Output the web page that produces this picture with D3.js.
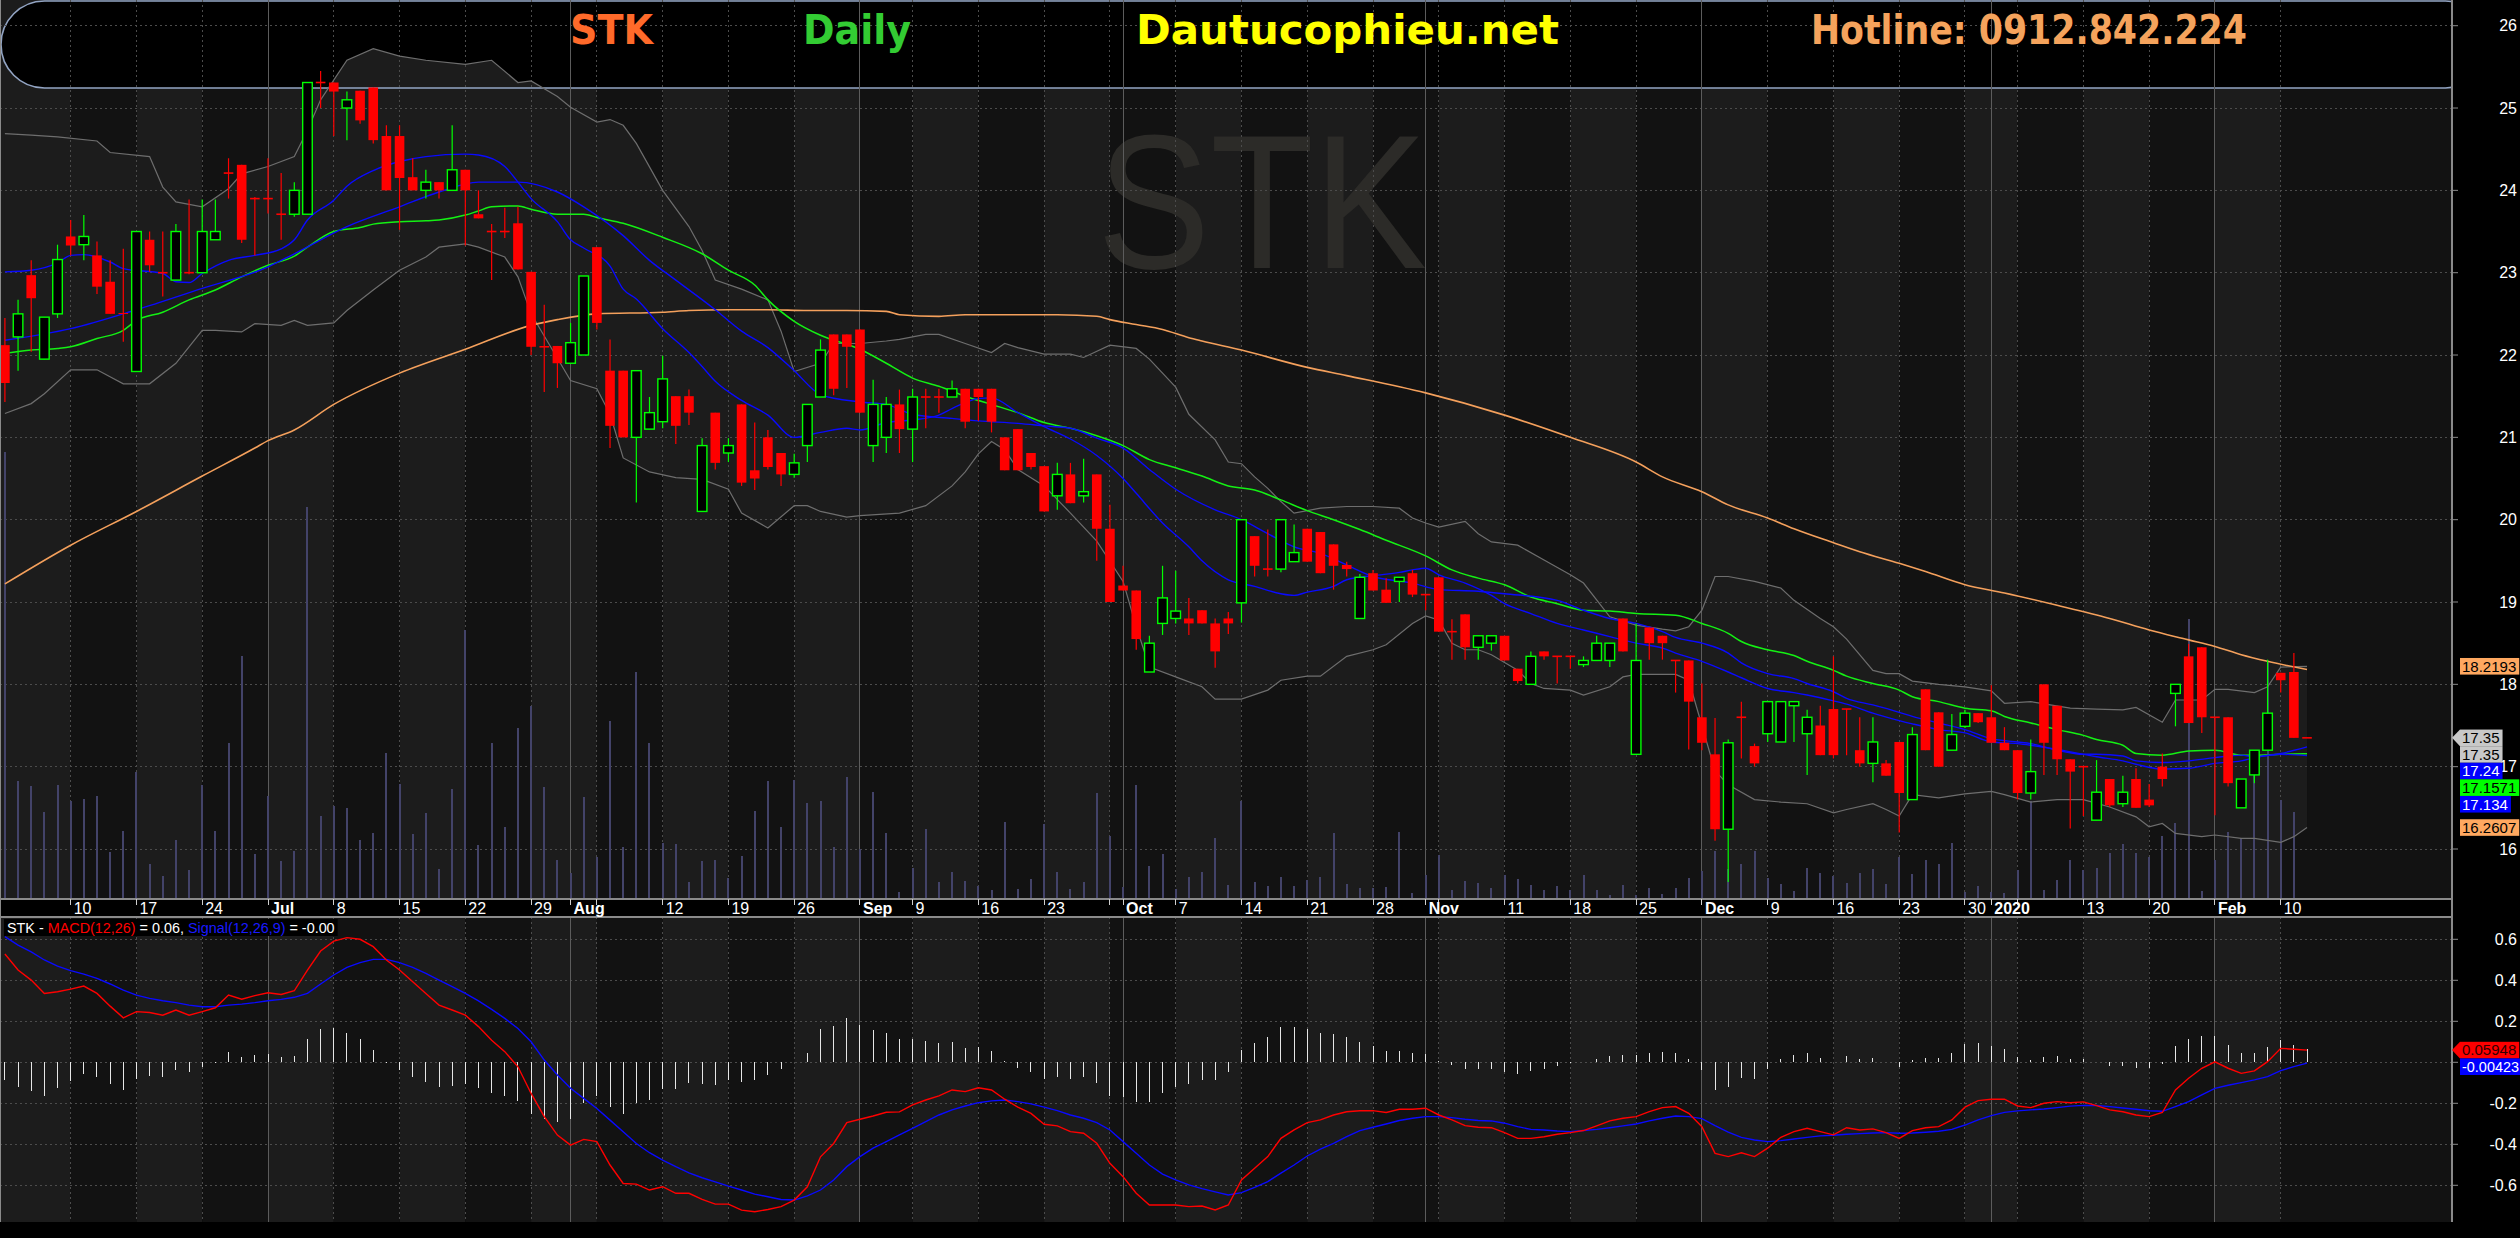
<!DOCTYPE html>
<html>
<head>
<meta charset="utf-8">
<title>STK Daily</title>
<script src="https://cdn.jsdelivr.net/npm/d3@7"></script>
<style>
  html, body { margin: 0; padding: 0; background: #000; overflow: hidden; }
  svg { display: block; }
  text { font-family: 'Liberation Sans Narrow', 'Arial Narrow', 'Liberation Sans', Arial, sans-serif; }
</style>
</head>
<body>
<svg id="chart"></svg>
<script>
// ---- values (STK, daily) ----
const dates = [
  "2019-06-03","2019-06-04","2019-06-05","2019-06-06","2019-06-07","2019-06-10","2019-06-11","2019-06-12","2019-06-13","2019-06-14",
  "2019-06-17","2019-06-18","2019-06-19","2019-06-20","2019-06-21","2019-06-24","2019-06-25","2019-06-26","2019-06-27","2019-06-28",
  "2019-07-01","2019-07-02","2019-07-03","2019-07-04","2019-07-05","2019-07-08","2019-07-09","2019-07-10","2019-07-11","2019-07-12",
  "2019-07-15","2019-07-16","2019-07-17","2019-07-18","2019-07-19","2019-07-22","2019-07-23","2019-07-24","2019-07-25","2019-07-26",
  "2019-07-29","2019-07-30","2019-07-31","2019-08-01","2019-08-02","2019-08-05","2019-08-06","2019-08-07","2019-08-08","2019-08-09",
  "2019-08-12","2019-08-13","2019-08-14","2019-08-15","2019-08-16","2019-08-19","2019-08-20","2019-08-21","2019-08-22","2019-08-23",
  "2019-08-26","2019-08-27","2019-08-28","2019-08-29","2019-08-30","2019-09-03","2019-09-04","2019-09-05","2019-09-06","2019-09-09",
  "2019-09-10","2019-09-11","2019-09-12","2019-09-13","2019-09-16","2019-09-17","2019-09-18","2019-09-19","2019-09-20","2019-09-23",
  "2019-09-24","2019-09-25","2019-09-26","2019-09-27","2019-09-30","2019-10-01","2019-10-02","2019-10-03","2019-10-04","2019-10-07",
  "2019-10-08","2019-10-09","2019-10-10","2019-10-11","2019-10-14","2019-10-15","2019-10-16","2019-10-17","2019-10-18","2019-10-21",
  "2019-10-22","2019-10-23","2019-10-24","2019-10-25","2019-10-28","2019-10-29","2019-10-30","2019-10-31","2019-11-01","2019-11-04",
  "2019-11-05","2019-11-06","2019-11-07","2019-11-08","2019-11-11","2019-11-12","2019-11-13","2019-11-14","2019-11-15","2019-11-18",
  "2019-11-19","2019-11-20","2019-11-21","2019-11-22","2019-11-25","2019-11-26","2019-11-27","2019-11-28","2019-11-29","2019-12-02",
  "2019-12-03","2019-12-04","2019-12-05","2019-12-06","2019-12-09","2019-12-10","2019-12-11","2019-12-12","2019-12-13","2019-12-16",
  "2019-12-17","2019-12-18","2019-12-19","2019-12-20","2019-12-23","2019-12-24","2019-12-25","2019-12-26","2019-12-27","2019-12-30",
  "2019-12-31","2020-01-02","2020-01-03","2020-01-06","2020-01-07","2020-01-08","2020-01-09","2020-01-10","2020-01-13","2020-01-14",
  "2020-01-15","2020-01-16","2020-01-17","2020-01-20","2020-01-21","2020-01-22","2020-01-30","2020-01-31","2020-02-03","2020-02-04",
  "2020-02-05","2020-02-06","2020-02-07","2020-02-10","2020-02-11","2020-02-12"
];

const open = [
  22.12,22.22,22.97,21.95,22.50,23.44,23.34,23.21,22.89,22.51,
  21.80,23.40,23.00,22.91,23.00,23.00,23.40,24.21,24.31,23.90,
  23.90,23.71,23.71,23.71,25.31,25.31,25.00,25.21,25.25,24.66,
  24.66,24.16,24.00,24.10,24.00,24.25,23.71,23.50,23.50,23.60,
  23.01,22.10,22.11,21.90,22.00,23.31,21.81,21.81,21.00,21.10,
  21.19,21.50,21.50,20.10,21.30,20.81,21.40,20.60,21.00,20.81,
  20.55,20.90,21.49,22.25,22.25,22.31,20.90,21.00,21.40,21.10,
  21.49,21.49,21.49,21.59,21.59,21.59,21.00,21.10,20.81,20.65,
  20.29,20.55,20.29,20.55,19.89,19.20,19.14,18.15,18.74,18.80,
  18.80,18.90,18.74,18.80,18.99,19.80,19.40,19.40,19.49,19.89,
  19.85,19.70,19.45,18.80,19.35,19.15,19.25,19.35,19.09,19.30,
  18.64,18.85,18.45,18.50,18.59,18.19,18.00,18.40,18.34,18.34,
  18.24,18.29,18.29,18.80,17.15,18.69,18.59,18.29,18.29,17.60,
  17.15,16.24,17.60,17.25,17.40,17.30,17.74,17.40,17.50,17.70,
  17.70,17.20,17.04,17.04,17.30,16.60,17.94,17.66,17.20,17.49,
  17.65,17.60,17.29,17.20,16.68,18.00,17.74,17.09,17.00,16.35,
  16.85,16.55,16.85,16.60,17.00,17.89,18.34,18.45,17.60,17.60,
  16.50,16.90,17.20,18.14,18.15,17.35
];
const high = [
  22.45,22.67,23.15,22.46,23.34,23.64,23.70,23.38,23.15,23.29,
  23.50,23.50,23.50,23.59,23.89,23.89,23.89,24.39,24.31,23.92,
  24.39,24.21,24.10,25.31,25.45,25.31,25.20,25.21,25.25,24.79,
  24.79,24.39,24.25,24.10,24.79,24.25,24.00,23.59,23.79,23.80,
  23.01,22.61,22.11,22.39,22.96,23.31,22.19,21.81,21.81,21.49,
  21.99,21.50,21.58,20.99,21.30,20.99,21.40,21.18,21.09,20.81,
  20.80,21.40,22.19,22.25,22.25,22.31,21.70,21.49,21.58,21.59,
  21.59,21.59,21.69,21.59,21.59,21.59,21.00,21.10,20.81,20.65,
  20.69,20.69,20.74,20.55,20.18,19.44,19.14,18.59,19.44,19.38,
  19.05,18.90,18.80,18.88,20.00,19.80,19.88,20.00,19.94,19.89,
  19.85,19.70,19.49,19.34,19.39,19.29,19.30,19.39,19.09,19.30,
  18.79,18.85,18.59,18.59,18.59,18.19,18.40,18.40,18.34,18.34,
  18.34,18.59,18.50,18.80,18.74,18.69,18.59,18.29,18.29,18.01,
  17.59,17.33,17.79,17.28,17.79,17.79,17.79,17.69,17.74,18.34,
  17.70,17.60,17.60,17.08,17.30,17.48,17.94,17.66,17.64,17.69,
  17.65,17.99,17.48,17.20,17.33,18.00,17.74,17.09,17.00,17.08,
  16.85,16.89,16.98,16.79,17.16,18.00,18.49,18.45,17.60,17.60,
  16.85,17.20,18.30,18.14,18.38,17.35
];
const low = [
  21.43,21.81,22.04,21.95,22.45,23.21,23.15,22.74,22.50,22.16,
  21.80,23.01,22.71,22.91,22.98,23.00,23.40,23.90,23.36,23.21,
  23.72,23.40,23.68,23.71,25.00,24.66,24.61,24.81,24.57,24.00,
  23.52,24.00,23.90,23.90,24.00,23.33,23.66,22.91,23.42,23.04,
  22.00,21.55,21.60,21.90,22.00,22.31,20.87,21.00,20.21,21.10,
  21.11,20.92,21.15,20.10,20.61,20.70,20.41,20.36,20.61,20.41,
  20.51,20.70,21.49,21.51,21.60,21.30,20.70,20.81,20.81,20.70,
  21.11,21.30,21.49,21.11,21.20,21.06,20.60,20.60,20.61,20.10,
  20.12,20.20,20.21,19.50,19.00,19.14,18.42,18.15,18.60,18.74,
  18.60,18.74,18.20,18.61,18.75,19.31,19.31,19.36,19.49,19.49,
  19.35,19.15,19.31,18.80,19.14,18.99,19.00,19.06,18.90,18.64,
  18.30,18.30,18.30,18.41,18.29,18.01,18.00,18.30,18.01,18.19,
  18.21,18.29,18.21,18.40,17.15,18.30,18.30,17.90,17.21,17.20,
  16.10,15.60,17.10,17.00,17.30,17.30,17.30,16.90,17.14,17.10,
  17.14,17.00,16.81,16.89,16.20,16.60,17.20,17.00,17.20,17.47,
  17.53,17.29,17.20,16.60,16.60,16.90,16.90,16.25,16.40,16.35,
  16.51,16.51,16.50,16.51,16.76,17.49,17.53,17.41,16.41,16.76,
  16.50,16.80,17.20,17.90,17.35,17.35
];
const close = [
  21.66,22.50,22.69,22.46,23.16,23.33,23.44,22.83,22.50,22.50,
  23.50,23.09,23.00,23.50,23.00,23.50,23.50,24.21,23.40,23.90,
  23.90,23.71,24.00,25.31,25.31,25.20,25.10,24.85,24.61,24.00,
  24.15,24.00,24.10,24.00,24.25,24.00,23.66,23.50,23.50,23.04,
  22.10,22.10,21.90,22.15,22.96,22.39,21.14,21.00,21.81,21.30,
  21.71,21.14,21.30,20.90,20.69,20.90,20.45,20.50,20.64,20.55,
  20.69,21.40,22.06,21.59,22.10,21.30,21.40,21.40,21.10,21.49,
  21.49,21.49,21.59,21.19,21.49,21.19,20.60,20.60,20.64,20.10,
  20.55,20.20,20.34,19.89,19.00,19.14,18.55,18.50,19.05,18.89,
  18.74,18.74,18.40,18.74,20.00,19.44,19.40,20.00,19.60,19.49,
  19.35,19.44,19.40,19.30,19.14,18.99,19.30,19.09,19.09,18.64,
  18.64,18.45,18.59,18.59,18.29,18.04,18.34,18.34,18.34,18.34,
  18.29,18.50,18.50,18.40,18.29,18.50,18.50,18.29,17.79,17.29,
  16.24,17.29,17.60,17.04,17.79,17.79,17.79,17.60,17.14,17.14,
  17.70,17.04,17.30,16.89,16.68,17.39,17.20,17.00,17.39,17.65,
  17.54,17.29,17.20,16.68,16.94,17.29,17.09,16.94,17.00,16.69,
  16.53,16.69,16.50,16.53,16.85,18.00,17.53,17.60,17.60,16.80,
  16.85,17.20,17.65,18.05,17.35,17.35
];
// thousand shares
const volume = [
  1118,295,283,218,285,245,250,258,118,170,
  318,88,58,148,73,285,170,390,608,113,
  258,95,120,980,208,233,228,148,165,365,
  288,163,215,75,275,673,135,390,180,428,
  483,280,98,65,255,105,445,130,568,390,
  140,138,43,95,98,53,108,220,295,180,
  298,240,245,130,305,125,268,165,18,78,
  175,43,68,45,33,23,193,25,50,188,
  68,25,43,265,158,30,285,83,113,25,
  55,68,153,35,245,43,33,55,33,48,
  55,165,38,28,28,30,168,15,60,110,
  23,45,40,28,60,50,35,23,33,23,
  60,23,10,35,10,28,13,28,53,70,
  120,75,88,120,53,38,20,78,65,58,
  40,65,75,38,105,63,98,88,140,18,
  33,18,15,73,245,23,48,98,73,78,
  115,138,115,105,158,190,700,20,98,168,
  153,310,593,248,218,0
];

// indicator lines, [bar, value]
const ma20 = [[0,23.01],[2,23.03],[4,23.12],[5,23.21],[6,23.22],[8,23.13],[9,23.05],[12,22.99],[13,22.89],[14,22.88],[15,22.99],[17,23.15],[19,23.21],[21,23.29],[22,23.40],[23,23.64],[25,23.88],[26,24.05],[28,24.24],[30,24.35],[32,24.41],[35,24.44],[36,24.43],[38,24.29],[39,24.10],[40,23.90],[42,23.62],[43,23.40],[44,23.30],[46,23.08],[47,22.80],[48,22.68],[50,22.32],[52,22.03],[53,21.86],[54,21.68],[56,21.45],[58,21.27],[60,21.00],[62,21.06],[64,21.11],[65,21.09],[67,21.18],[69,21.21],[71,21.27],[72,21.35],[74,21.47],[75,21.48],[77,21.30],[79,21.13],[81,20.98],[83,20.78],[85,20.50],[86,20.32],[88,19.96],[90,19.67],[91,19.50],[93,19.27],[95,19.19],[97,19.10],[98,19.08],[99,19.12],[101,19.19],[102,19.27],[104,19.32],[106,19.36],[107,19.39],[108,19.41],[109,19.33],[111,19.23],[113,19.08],[114,18.98],[116,18.86],[118,18.74],[120,18.66],[122,18.58],[124,18.50],[126,18.44],[127,18.38],[129,18.28],[131,18.15],[132,18.08],[134,17.95],[136,17.90],[137,17.87],[139,17.80],[140,17.76],[142,17.65],[144,17.56],[145,17.52],[147,17.45],[149,17.41],[151,17.30],[153,17.28],[154,17.26],[156,17.21],[158,17.15],[159,17.12],[161,17.07],[162,17.03],[164,16.97],[166,16.98],[168,17.04],[170,17.07],[171,17.11],[173,17.16],[175,17.24]];
const bbUpper = [[0,24.69],[2,24.67],[4,24.65],[7,24.60],[8,24.46],[11,24.41],[12,24.04],[13,23.86],[15,23.80],[17,24.02],[18,24.20],[20,24.29],[22,24.41],[23,24.73],[24,25.10],[26,25.58],[28,25.72],[30,25.63],[32,25.58],[35,25.53],[37,25.58],[39,25.31],[40,25.33],[42,25.14],[43,25.01],[45,24.83],[46,24.86],[47,24.79],[48,24.57],[50,24.00],[52,23.56],[53,23.27],[54,22.91],[56,22.80],[58,22.67],[59,22.29],[60,21.80],[62,21.90],[63,22.14],[65,22.14],[67,22.17],[68,22.19],[70,22.25],[71,22.25],[73,22.14],[75,22.03],[76,22.14],[77,22.09],[79,22.01],[81,22.01],[82,21.97],[84,22.12],[86,22.08],[87,21.95],[89,21.61],[90,21.28],[92,20.97],[93,20.70],[94,20.68],[95,20.52],[96,20.38],[97,20.22],[98,20.08],[100,20.14],[102,20.16],[104,20.16],[106,20.14],[107,20.02],[108,19.96],[109,19.91],[111,19.98],[112,19.83],[113,19.73],[115,19.69],[117,19.51],[119,19.33],[120,19.23],[122,18.82],[124,18.72],[126,18.67],[127,18.65],[128,18.70],[129,18.90],[130,19.31],[131,19.31],[133,19.25],[135,19.17],[136,19.02],[138,18.80],[139,18.70],[140,18.55],[142,18.17],[143,18.13],[144,18.13],[145,18.04],[147,18.00],[149,17.97],[151,17.92],[152,17.77],[154,17.79],[157,17.71],[159,17.70],[161,17.69],[162,17.72],[164,17.54],[165,17.81],[167,17.81],[168,17.94],[169,17.94],[171,17.90],[172,17.97],[173,18.21],[175,18.2193]];
const bbLower = [[0,21.29],[2,21.41],[3,21.53],[5,21.82],[7,21.82],[9,21.65],[11,21.65],[13,21.90],[15,22.30],[16,22.30],[18,22.28],[19,22.38],[21,22.36],[22,22.42],[23,22.36],[25,22.39],[26,22.54],[28,22.79],[30,23.03],[32,23.19],[33,23.31],[35,23.35],[36,23.31],[38,23.19],[39,22.95],[40,22.50],[43,21.69],[45,21.59],[46,21.28],[47,20.75],[49,20.58],[51,20.51],[53,20.49],[55,20.37],[56,20.08],[58,19.90],[60,20.17],[61,20.17],[62,20.10],[64,20.03],[65,20.05],[68,20.08],[70,20.17],[72,20.41],[73,20.58],[74,20.80],[75,20.95],[76,20.85],[77,20.61],[79,20.41],[81,20.08],[83,19.74],[85,19.25],[86,18.70],[87,18.21],[89,18.09],[91,17.97],[92,17.82],[94,17.82],[96,17.93],[97,18.05],[99,18.10],[100,18.10],[102,18.34],[104,18.42],[105,18.48],[107,18.74],[108,18.83],[109,18.78],[110,18.50],[111,18.42],[112,18.42],[113,18.36],[115,18.17],[116,18.01],[117,17.95],[119,17.93],[120,17.87],[122,17.97],[123,18.09],[124,18.12],[127,18.12],[128,18.05],[129,17.50],[130,16.95],[131,16.78],[133,16.60],[135,16.57],[137,16.55],[139,16.44],[140,16.48],[142,16.55],[143,16.48],[144,16.40],[145,16.66],[147,16.62],[149,16.67],[151,16.70],[152,16.66],[154,16.57],[156,16.60],[158,16.60],[160,16.51],[162,16.39],[163,16.27],[164,16.31],[165,16.19],[167,16.15],[168,16.17],[170,16.13],[171,16.13],[173,16.08],[174,16.15],[175,16.2607]];
const maGreen = [[0,22.02],[2,22.06],[4,22.08],[5,22.10],[7,22.20],[9,22.30],[10,22.42],[12,22.52],[14,22.67],[16,22.79],[18,22.95],[20,23.09],[22,23.20],[23,23.31],[25,23.50],[27,23.55],[28,23.59],[30,23.62],[32,23.63],[33,23.64],[35,23.70],[36,23.75],[37,23.80],[39,23.81],[40,23.77],[42,23.71],[44,23.71],[45,23.67],[47,23.60],[50,23.43],[53,23.23],[55,23.03],[57,22.85],[58,22.67],[60,22.41],[62,22.24],[65,22.07],[67,21.90],[69,21.72],[71,21.62],[73,21.50],[75,21.40],[77,21.30],[79,21.18],[81,21.11],[83,21.02],[85,20.90],[87,20.73],[89,20.63],[91,20.53],[93,20.41],[95,20.36],[97,20.24],[99,20.11],[101,20.00],[103,19.88],[105,19.75],[108,19.56],[110,19.39],[112,19.29],[114,19.21],[116,19.06],[118,18.98],[120,18.90],[122,18.89],[124,18.86],[127,18.84],[129,18.74],[131,18.62],[132,18.52],[134,18.42],[136,18.35],[137,18.28],[139,18.17],[140,18.10],[142,18.01],[144,17.93],[145,17.85],[147,17.79],[149,17.71],[151,17.68],[152,17.61],[154,17.53],[156,17.45],[158,17.38],[159,17.33],[161,17.26],[162,17.16],[164,17.14],[166,17.19],[168,17.20],[170,17.14],[171,17.14],[173,17.15],[175,17.1571]];
const maBlue = [[0,22.18],[5,22.32],[10,22.55],[15,22.81],[20,23.07],[22,23.23],[26,23.56],[30,23.80],[33,23.98],[36,24.10],[39,24.10],[42,23.98],[44,23.80],[47,23.45],[49,23.15],[51,22.91],[54,22.55],[56,22.29],[58,22.09],[60,21.81],[62,21.52],[65,21.43],[67,21.40],[69,21.28],[72,21.23],[74,21.20],[77,21.17],[79,21.14],[81,21.11],[83,20.99],[85,20.87],[87,20.61],[89,20.37],[92,20.12],[94,20.00],[96,19.83],[98,19.67],[100,19.59],[102,19.45],[104,19.31],[107,19.23],[109,19.15],[112,19.13],[114,19.10],[118,19.02],[120,18.90],[122,18.80],[124,18.74],[126,18.64],[127,18.57],[129,18.50],[131,18.38],[132,18.26],[134,18.13],[136,18.07],[137,18.01],[139,17.91],[140,17.83],[142,17.75],[144,17.66],[145,17.61],[147,17.53],[149,17.45],[151,17.34],[153,17.30],[154,17.28],[156,17.20],[158,17.15],[159,17.15],[161,17.13],[162,17.07],[164,17.05],[166,17.07],[168,17.11],[170,17.14],[171,17.12],[173,17.15],[175,17.134]];
const maOrange = [[0,19.22],[5,19.69],[10,20.10],[15,20.53],[19,20.87],[20,20.96],[22,21.09],[25,21.40],[30,21.78],[35,22.07],[40,22.36],[42,22.43],[45,22.50],[50,22.52],[52,22.54],[55,22.55],[58,22.55],[61,22.54],[64,22.54],[67,22.53],[68,22.49],[71,22.47],[73,22.49],[77,22.49],[80,22.49],[83,22.47],[84,22.43],[86,22.37],[88,22.31],[90,22.21],[91,22.17],[94,22.06],[99,21.85],[102,21.75],[108,21.54],[114,21.27],[119,21.00],[124,20.70],[126,20.52],[129,20.34],[131,20.18],[134,20.02],[136,19.89],[139,19.72],[141,19.61],[144,19.47],[146,19.37],[149,19.21],[152,19.11],[156,18.96],[160,18.80],[163,18.66],[166,18.54],[168,18.46],[170,18.36],[172,18.28],[175,18.18]];

const macd = [
  0.528,0.450,0.401,0.336,0.344,0.357,0.372,0.336,0.274,0.217,
  0.247,0.243,0.230,0.255,0.230,0.247,0.266,0.328,0.308,0.325,
  0.339,0.331,0.349,0.450,0.543,0.591,0.608,0.600,0.564,0.499,
  0.450,0.393,0.336,0.279,0.255,0.230,0.174,0.108,0.052,-0.022,
  -0.152,-0.265,-0.355,-0.404,-0.376,-0.387,-0.501,-0.591,-0.594,-0.623,
  -0.607,-0.639,-0.639,-0.669,-0.692,-0.692,-0.721,-0.729,-0.718,-0.704,
  -0.672,-0.607,-0.461,-0.396,-0.294,-0.278,-0.262,-0.244,-0.242,-0.208,
  -0.184,-0.164,-0.135,-0.143,-0.124,-0.135,-0.180,-0.219,-0.249,-0.302,
  -0.310,-0.338,-0.346,-0.395,-0.493,-0.558,-0.639,-0.696,-0.696,-0.696,
  -0.704,-0.701,-0.720,-0.696,-0.574,-0.517,-0.460,-0.371,-0.330,-0.294,
  -0.281,-0.257,-0.241,-0.236,-0.236,-0.245,-0.229,-0.229,-0.224,-0.257,
  -0.281,-0.309,-0.317,-0.319,-0.343,-0.371,-0.371,-0.363,-0.351,-0.343,
  -0.333,-0.310,-0.286,-0.273,-0.265,-0.241,-0.221,-0.216,-0.249,-0.314,
  -0.444,-0.460,-0.441,-0.460,-0.419,-0.366,-0.338,-0.322,-0.338,-0.354,
  -0.319,-0.330,-0.325,-0.343,-0.371,-0.333,-0.319,-0.314,-0.281,-0.219,
  -0.187,-0.180,-0.180,-0.213,-0.221,-0.200,-0.192,-0.197,-0.193,-0.211,
  -0.232,-0.241,-0.257,-0.265,-0.245,-0.135,-0.078,-0.029,0.002,-0.029,
  -0.054,-0.042,0.003,0.068,0.064,0.05948
];
const signal = [
  0.613,0.572,0.539,0.499,0.469,0.447,0.430,0.409,0.382,0.352,
  0.328,0.312,0.300,0.291,0.279,0.271,0.271,0.279,0.284,0.291,
  0.300,0.307,0.317,0.336,0.382,0.426,0.463,0.486,0.502,0.502,
  0.486,0.463,0.434,0.401,0.369,0.336,0.300,0.258,0.214,0.165,
  0.100,0.011,-0.062,-0.127,-0.176,-0.225,-0.282,-0.339,-0.396,-0.441,
  -0.477,-0.509,-0.539,-0.563,-0.583,-0.604,-0.623,-0.643,-0.656,-0.669,
  -0.672,-0.652,-0.623,-0.574,-0.509,-0.460,-0.419,-0.387,-0.354,-0.322,
  -0.289,-0.257,-0.232,-0.213,-0.197,-0.188,-0.184,-0.192,-0.203,-0.219,
  -0.236,-0.257,-0.273,-0.294,-0.330,-0.387,-0.444,-0.501,-0.545,-0.574,
  -0.598,-0.616,-0.632,-0.647,-0.636,-0.610,-0.582,-0.541,-0.501,-0.457,
  -0.424,-0.395,-0.363,-0.333,-0.317,-0.301,-0.284,-0.273,-0.265,-0.265,
  -0.270,-0.278,-0.284,-0.286,-0.297,-0.314,-0.327,-0.330,-0.335,-0.338,
  -0.333,-0.327,-0.319,-0.310,-0.301,-0.286,-0.273,-0.262,-0.265,-0.275,
  -0.309,-0.341,-0.366,-0.379,-0.387,-0.382,-0.374,-0.366,-0.359,-0.356,
  -0.351,-0.348,-0.345,-0.343,-0.346,-0.345,-0.341,-0.336,-0.327,-0.306,
  -0.281,-0.260,-0.244,-0.237,-0.232,-0.228,-0.221,-0.214,-0.210,-0.211,
  -0.216,-0.223,-0.229,-0.236,-0.239,-0.216,-0.192,-0.159,-0.127,-0.112,
  -0.099,-0.086,-0.070,-0.041,-0.021,-0.00423
];

const priceTicks = [16, 17, 18, 19, 20, 21, 22, 23, 24, 25, 26];
const macdTicks = [-0.6, -0.4, -0.2, 0, 0.2, 0.4, 0.6];
const ticker = "STK";
const headerTexts = ["STK", "Daily", "Dautucophieu.net", "Hotline: 0912.842.224"];

// ---- layout ----
const W = 2520, H = 1238;
const plotR = 2452;
const priceBot = 899, dateBot = 917, macdBot = 1222;
const last = close.length - 1;

const svg = d3.select('#chart').attr('width', W).attr('height', H).attr('viewBox', `0 0 ${W} ${H}`);

const x = d3.scaleLinear().domain([0, last]).range([4.9, 4.9 + last * 13.155]);
const y = d3.scaleLinear().domain([16, 26]).range([849, 25.7]);
const yM = d3.scaleLinear().domain([-0.6, 0.6]).range([1185.3, 939.3]);
const yV = d3.scaleLinear().domain([0, 1200]).range([priceBot, priceBot - 480]);
const bw = 9.6;

const days = dates.map(d3.timeParse('%Y-%m-%d'));
const weekStarts = [], monthStarts = [];
days.forEach((d, i) => {
  if (i === 0) return;
  if (d.getDay() < days[i - 1].getDay()) weekStarts.push(i);
  if (d.getMonth() !== days[i - 1].getMonth()) monthStarts.push(i);
});

svg.append('rect').attr('width', W).attr('height', H).attr('fill', '#000');

// alternating week shading, both panes
const bandStarts = [0].concat(weekStarts);
const $bands = svg.append('g');
bandStarts.forEach((s, k) => {
  const x0 = k === 0 ? 0 : x(s);
  const x1 = k < bandStarts.length - 1 ? x(bandStarts[k + 1]) : plotR;
  const fill = k % 2 === 0 ? '#1c1c1c' : '#121212';
  $bands.append('rect').attr('x', x0).attr('y', 0).attr('width', x1 - x0).attr('height', priceBot).attr('fill', fill);
  $bands.append('rect').attr('x', x0).attr('y', dateBot).attr('width', x1 - x0).attr('height', macdBot - dateBot).attr('fill', fill);
});

// header banner fill
svg.append('rect').attr('x', 1).attr('y', 1).attr('width', 2488).attr('height', 87).attr('rx', 43.5).attr('fill', '#000');

// bollinger cloud
const pt = d => [x(d[0]), y(d[1])];
const cloud = bbUpper.map(pt).concat(bbLower.map(pt).reverse());
svg.append('path').attr('d', d3.line()(cloud) + 'Z').attr('fill', '#1c1c1c');

// header banner border
svg.append('rect').attr('x', 1).attr('y', 1).attr('width', 2488).attr('height', 87).attr('rx', 43.5)
  .attr('fill', 'none').attr('stroke', '#93a5c4').attr('stroke-width', 1.6);

// watermark
svg.append('text').attr('x', 1097).attr('y', 268).attr('font-size', 192)
  .attr('textLength', 330).attr('lengthAdjust', 'spacingAndGlyphs')
  .style('font-family', "'Liberation Sans', Arial, sans-serif")
  .attr('fill', '#2c2b28').text(ticker);

// grid
const $grid = svg.append('g').attr('shape-rendering', 'crispEdges');
priceTicks.forEach(v => {
  $grid.append('line').attr('x1', 0).attr('x2', plotR).attr('y1', y(v)).attr('y2', y(v))
    .attr('stroke', '#4c4c4c').attr('stroke-dasharray', '2,3');
});
macdTicks.forEach(v => {
  $grid.append('line').attr('x1', 0).attr('x2', plotR).attr('y1', yM(v)).attr('y2', yM(v))
    .attr('stroke', '#4c4c4c').attr('stroke-dasharray', '2,3');
});
const vLines = Array.from(new Set(weekStarts.concat(monthStarts))).sort((a, b) => a - b);
vLines.forEach(i => {
  const solid = monthStarts.includes(i);
  [[0, priceBot], [dateBot, macdBot]].forEach(([a, b]) => {
    $grid.append('line').attr('x1', x(i)).attr('x2', x(i)).attr('y1', a).attr('y2', b)
      .attr('stroke', solid ? '#5c5c5c' : '#4c4c4c')
      .attr('stroke-dasharray', solid ? null : '2,3');
  });
});

// volume
svg.append('g').attr('shape-rendering', 'crispEdges')
  .selectAll('line').data(volume).join('line')
  .attr('x1', (d, i) => x(i)).attr('x2', (d, i) => x(i))
  .attr('y1', priceBot).attr('y2', d => yV(d))
  .attr('stroke', '#434369').attr('stroke-width', 2);

// price lines
const smooth = d3.line().x(d => x(d[0])).y(d => y(d[1])).curve(d3.curveMonotoneX);
const straight = d3.line().x(d => x(d[0])).y(d => y(d[1]));
const $lines = svg.append('g').attr('fill', 'none');
$lines.append('path').attr('d', straight(bbUpper)).attr('stroke', '#6e6e6e').attr('stroke-width', 1.2);
$lines.append('path').attr('d', straight(bbLower)).attr('stroke', '#6e6e6e').attr('stroke-width', 1.2);
$lines.append('path').attr('d', smooth(maOrange)).attr('stroke', '#f4a05c').attr('stroke-width', 1.6);
$lines.append('path').attr('d', smooth(maGreen)).attr('stroke', '#14f014').attr('stroke-width', 1.5);
$lines.append('path').attr('d', smooth(maBlue)).attr('stroke', '#0a0aff').attr('stroke-width', 1.4);
$lines.append('path').attr('d', smooth(ma20)).attr('stroke', '#0a0aff').attr('stroke-width', 1.4);

// candles
const $candles = svg.append('g');
close.forEach((c, i) => {
  const o = open[i];
  const up = c > o;
  const col = up ? '#00ff00' : '#ff0000';
  const cx = x(i);
  $candles.append('line').attr('x1', cx).attr('x2', cx).attr('y1', y(high[i])).attr('y2', y(low[i]))
    .attr('stroke', col).attr('stroke-width', 1.2);
  if (c === o) {
    $candles.append('line').attr('x1', cx - bw / 2).attr('x2', cx + bw / 2).attr('y1', y(c)).attr('y2', y(c))
      .attr('stroke', col).attr('stroke-width', 1.6);
  } else {
    const top = y(Math.max(o, c)), bot = y(Math.min(o, c));
    $candles.append('rect').attr('x', cx - bw / 2).attr('y', top).attr('width', bw).attr('height', Math.max(bot - top, 1))
      .attr('fill', up ? '#000' : '#ff0000')
      .attr('stroke', up ? '#00ff00' : 'none').attr('stroke-width', 1.4);
  }
});

// header texts
const headFont = "'DejaVu Sans', Verdana, sans-serif";
const headPos = [[570, 83, '#ff6a2a'], [803, 108, '#33cc33'], [1136, 423, '#ffff00'], [1811, 436, '#f5a35c']];
headerTexts.forEach((t, k) => {
  svg.append('text').attr('x', headPos[k][0]).attr('y', 44)
    .attr('font-size', 40).attr('font-weight', 'bold').style('font-family', headFont)
    .attr('textLength', headPos[k][1]).attr('lengthAdjust', 'spacingAndGlyphs')
    .attr('fill', headPos[k][2]).text(t);
});

// MACD histogram and lines
const hist = macd.map((m, i) => m - signal[i]);
svg.append('g').attr('shape-rendering', 'crispEdges')
  .selectAll('line').data(hist).join('line')
  .attr('x1', (d, i) => x(i)).attr('x2', (d, i) => x(i))
  .attr('y1', yM(0)).attr('y2', d => yM(d))
  .attr('stroke', '#e6e6e6').attr('stroke-width', 1);
const mLine = d3.line().x((d, i) => x(i)).y(d => yM(d));
svg.append('path').attr('d', mLine(signal)).attr('fill', 'none').attr('stroke', '#0a0aff').attr('stroke-width', 1.4);
svg.append('path').attr('d', mLine(macd)).attr('fill', 'none').attr('stroke', '#ff0000').attr('stroke-width', 1.4);

// MACD title, sized to the reference width
const $title = svg.append('g');
const titleBg = $title.append('rect').attr('x', 4).attr('y', 919).attr('height', 17).attr('fill', '#000');
const tt = $title.append('text').attr('x', 7).attr('y', 932.5).attr('font-size', 16);
[[`${ticker} - `, '#fff'], ['MACD(12,26)', '#ff0000'], [` = ${macd[last].toFixed(2)}, `, '#fff'],
 ['Signal(12,26,9)', '#1a1aff'], [` = ${signal[last].toFixed(2)}`, '#fff']]
  .forEach(([s, c]) => tt.append('tspan').attr('fill', c).text(s));
const natural = tt.node().getComputedTextLength();
tt.attr('font-size', Math.min(16, 16 * 328 / natural));
titleBg.attr('width', tt.node().getComputedTextLength() + 6);

// frames, date band, axis
const $frame = svg.append('g').attr('shape-rendering', 'crispEdges');
$frame.append('rect').attr('x', 0).attr('y', priceBot).attr('width', plotR).attr('height', dateBot - priceBot).attr('fill', '#000');
$frame.append('rect').attr('x', plotR).attr('y', 0).attr('width', W - plotR).attr('height', H).attr('fill', '#000');
$frame.append('rect').attr('x', 0).attr('y', macdBot).attr('width', W).attr('height', H - macdBot).attr('fill', '#000');
[[0, priceBot, plotR, priceBot], [0, dateBot, plotR, dateBot], [plotR, 0, plotR, macdBot], [0.5, 0, 0.5, macdBot]]
  .forEach(([x1, y1, x2, y2]) => $frame.append('line').attr('x1', x1).attr('y1', y1).attr('x2', x2).attr('y2', y2)
    .attr('stroke', '#8a8a8a').attr('stroke-width', 1.2));

// date labels: month / year at month starts, day number at week starts unless crowded
const labels = [];
monthStarts.forEach(i => {
  const yr = days[i].getFullYear() !== days[i - 1].getFullYear();
  labels.push({ i, text: yr ? String(days[i].getFullYear()) : d3.timeFormat('%b')(days[i]), bold: true });
});
weekStarts.filter(i => !monthStarts.includes(i)).forEach(i => {
  const crowded = monthStarts.some(m => (i > m && i - m <= 3) || m === i + 1);
  if (!crowded) labels.push({ i, text: String(days[i].getDate()), bold: false });
});
vLines.forEach(i => {
  $frame.append('line').attr('x1', x(i)).attr('x2', x(i)).attr('y1', priceBot).attr('y2', priceBot + 6)
    .attr('stroke', '#cfcfcf');
});
svg.append('g').selectAll('text').data(labels).join('text')
  .attr('x', d => x(d.i) + 3).attr('y', 913.5)
  .attr('font-size', 16).attr('font-weight', d => d.bold ? 'bold' : 'normal')
  .attr('fill', '#fff').text(d => d.text);

// right axis labels (the MACD zero label sits under the value tags)
const $axis = svg.append('g');
priceTicks.forEach(v => {
  $axis.append('line').attr('x1', plotR).attr('x2', plotR + 6).attr('y1', y(v)).attr('y2', y(v)).attr('stroke', '#8a8a8a');
  $axis.append('text').attr('x', 2517).attr('y', y(v) + 5.5).attr('text-anchor', 'end')
    .attr('font-size', 16).attr('fill', '#fff').text(v);
});
macdTicks.forEach(v => {
  $axis.append('line').attr('x1', plotR).attr('x2', plotR + 6).attr('y1', yM(v)).attr('y2', yM(v)).attr('stroke', '#8a8a8a');
  if (v !== 0) {
    $axis.append('text').attr('x', 2517).attr('y', yM(v) + 5.5).attr('text-anchor', 'end')
      .attr('font-size', 16).attr('fill', '#fff').text(String(+v.toFixed(1)));
  }
});

// value tags
const tagH = 16.6;
function drawTags(tags, scale, digits) {
  tags.sort((a, b) => b.value - a.value);
  let prev = -Infinity;
  tags.forEach(t => {
    const yc = Math.max(scale(t.value), prev + tagH);
    prev = yc;
    const g = $axis.append('g');
    const r = g.append('rect').attr('x', plotR + 8).attr('y', yc - tagH / 2).attr('height', tagH).attr('fill', t.bg);
    const txt = g.append('text').attr('x', plotR + 10).attr('y', yc + 5.3).attr('font-size', 15)
      .attr('fill', t.fg).text(String(+t.value.toFixed(digits)));
    const len = txt.node().getComputedTextLength();
    const room = W - 1 - (plotR + 10);
    if (len > room) txt.attr('textLength', room).attr('lengthAdjust', 'spacingAndGlyphs');
    r.attr('width', Math.min(len, room) + 5);
    if (t.arrow) {
      g.append('path').attr('d', `M${plotR},${yc}L${plotR + 8},${yc - tagH / 2}L${plotR + 8},${yc + tagH / 2}Z`).attr('fill', t.bg);
    }
  });
}
drawTags([
  { value: close[last], bg: '#c8c8c8', fg: '#000', arrow: true },
  { value: close[last - 1], bg: '#c8c8c8', fg: '#000' },
  { value: ma20[ma20.length - 1][1], bg: '#0000ff', fg: '#fff' },
  { value: maGreen[maGreen.length - 1][1], bg: '#00ff00', fg: '#000' },
  { value: maBlue[maBlue.length - 1][1], bg: '#0000ff', fg: '#fff' },
  { value: bbUpper[bbUpper.length - 1][1], bg: '#ffa860', fg: '#000' },
  { value: bbLower[bbLower.length - 1][1], bg: '#ffa860', fg: '#000' }
], y, 4);
drawTags([
  { value: macd[last], bg: '#ff0000', fg: '#300', arrow: true },
  { value: signal[last], bg: '#0000ff', fg: '#fff' }
], yM, 5);
</script>
</body>
</html>
